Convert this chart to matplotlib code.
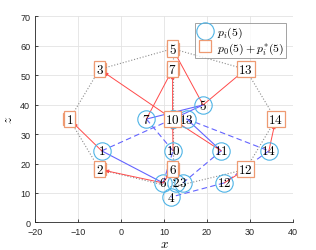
import matplotlib
matplotlib.use("Agg")
import matplotlib.pyplot as plt
import numpy as np

plt.rcParams["mathtext.fontset"] = "cm"
plt.rcParams["font.family"] = ["Liberation Sans", "DejaVu Sans"]

# -------------------------------------------------
# Data
# -------------------------------------------------

# p_i(5): circle positions, label -> (x, z)
circle_labels = ["1", "2", "3", "4", "5", "6", "7", "8", "9", "10", "11", "12", "13", "14"]
circle_x = [-4.5, 12.8, 14.4, 11.6, 19.1, 9.8, 5.9, 12.0, 12.0, 12.1, 23.3, 24.0, 15.3, 34.4]
circle_z = [24.3, 13.4, 13.4, 8.6, 39.9, 13.4, 35.1, 35.1, 35.1, 24.3, 24.3, 13.4, 35.1, 24.3]
hidden_circle_labels = ["8", "9"]   # sit under the square labelled 10

# p_0(5) + p_i^*(5): square positions
square_labels = ["1", "2", "3", "5", "6", "7", "10", "12", "13", "14"]
square_x = [-12, -5, -5, 12, 12, 12, 12, 29, 29, 36]
square_z = [35, 18, 52, 59, 18, 52, 35, 18, 52, 35]

# grey dotted outline (ring + spoke)
ring_x = [-12, -5, 12, 29, 36, 29, 12, -5, -12]
ring_z = [35, 52, 59, 52, 35, 18, 12, 18, 35]
spoke_x = [12, 12]
spoke_z = [59, 12]

# blue links between circles
solid_links = [("1", "6"), ("7", "5"), ("8", "5"), ("13", "11")]
dashed_links = [("1", "8"), ("7", "10"), ("13", "14"), ("11", "3"),
                ("14", "12"), ("12", "4"), ("6", "10")]

# red arrows circle -> square
arrows = [("1", "1"), ("6", "2"), ("8", "3"), ("5", "5"), ("6", "6"),
          ("7", "7"), ("9", "7"), ("10", "10"), ("11", "10"), ("12", "12"),
          ("5", "13"), ("14", "14")]

# -------------------------------------------------
# Plot
# -------------------------------------------------

C_BLUE = "#4DB3E6"
C_ORANGE = "#EE9A72"
C_LINE = "#6464FF"
C_RED = "#FF4A4A"

circ = {l: (x, z) for l, x, z in zip(circle_labels, circle_x, circle_z)}
squa = {l: (x, z) for l, x, z in zip(square_labels, square_x, square_z)}

fig = plt.figure(figsize=(3.16, 2.51), dpi=100)
ax = fig.add_axes([0.111, 0.110, 0.816, 0.821])

ax.plot(ring_x, ring_z, ":", color="#8C8C8C", lw=0.8, zorder=2)
ax.plot(spoke_x, spoke_z, ":", color="#8C8C8C", lw=0.8, zorder=2)

for a, b in solid_links:
    ax.plot([circ[a][0], circ[b][0]], [circ[a][1], circ[b][1]], "-",
            color=C_LINE, lw=0.8, zorder=3)
for a, b in dashed_links:
    ax.plot([circ[a][0], circ[b][0]], [circ[a][1], circ[b][1]], "--",
            color=C_LINE, lw=0.8, dashes=(5, 3), zorder=3)

for c, s in arrows:
    ax.annotate("", xy=squa[s], xytext=circ[c],
                arrowprops=dict(arrowstyle="-|>", color=C_RED, lw=0.7,
                                mutation_scale=5, shrinkA=0, shrinkB=4),
                zorder=4)

ax.plot(circle_x, circle_z, "o", mfc="none", mec=C_BLUE, ms=12.5, mew=0.8,
        zorder=5, label=r"$p_i(5)$")
ax.plot(square_x, square_z, "s", mfc="none", mec=C_ORANGE, ms=9, mew=0.9,
        zorder=1, label=r"$p_0(5)+p_i^{*}(5)$")

for l, x, z in zip(circle_labels, circle_x, circle_z):
    if l in hidden_circle_labels:
        continue
    ax.text(x, z, "$" + l + "$", ha="center", va="center", fontsize=9.5, zorder=6)

for l, x, z in zip(square_labels, square_x, square_z):
    ax.text(x, z, "$" + l + "$", ha="center", va="center", fontsize=9.5, zorder=7,
            bbox=dict(boxstyle="square,pad=0.12", fc="white", ec=C_ORANGE, lw=0.9))

ax.set_xlim(-20, 40)
ax.set_ylim(0, 70)
ax.set_xticks(np.arange(-20, 41, 10))
ax.set_yticks(np.arange(0, 71, 10))
ax.grid(True, color="#E3E3E3", lw=0.6)
ax.set_axisbelow(True)
ax.tick_params(direction="in", labelsize=6.5, colors="#262626", length=2.5, width=0.6)
for side in ["top", "right"]:
    ax.spines[side].set_visible(False)
for side in ["left", "bottom"]:
    ax.spines[side].set_color("#262626")
    ax.spines[side].set_linewidth(0.6)

ax.set_xlabel("$x$", fontsize=9.5, labelpad=1)
ax.set_ylabel("$z$", fontsize=9.5, labelpad=4)

leg = ax.legend(loc="upper right", fontsize=8.5, frameon=True, fancybox=False,
                borderaxespad=0.6, handletextpad=0.3, borderpad=0.15,
                labelspacing=0.0, handlelength=1.4)
leg.get_frame().set_edgecolor("#8C8C8C")
leg.get_frame().set_linewidth(0.7)

fig.savefig("out.png", dpi=100)
